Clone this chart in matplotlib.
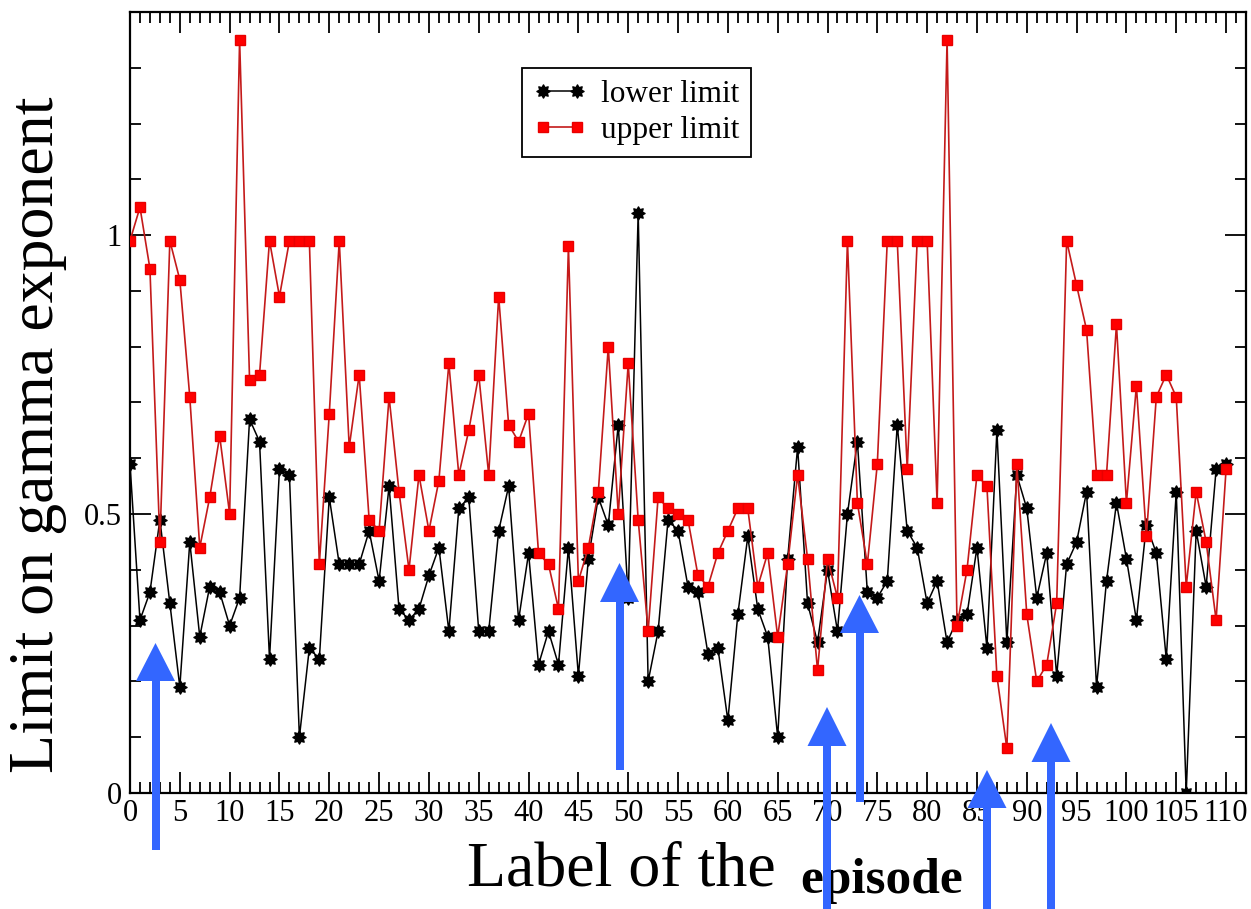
import matplotlib
matplotlib.use("Agg")
import matplotlib.pyplot as plt
from matplotlib.path import Path
from matplotlib.patches import Polygon
from matplotlib.ticker import MultipleLocator, FixedLocator, FixedFormatter

plt.rcParams['font.family'] = ['Liberation Serif', 'DejaVu Serif']

episodes = list(range(111))

lower_limit = [
    0.59, 0.31, 0.36, 0.49, 0.34, 0.19, 0.45, 0.28, 0.37, 0.36,
    0.30, 0.35, 0.67, 0.63, 0.24, 0.58, 0.57, 0.10, 0.26, 0.24,
    0.53, 0.41, 0.41, 0.41, 0.47, 0.38, 0.55, 0.33, 0.31, 0.33,
    0.39, 0.44, 0.29, 0.51, 0.53, 0.29, 0.29, 0.47, 0.55, 0.31,
    0.43, 0.23, 0.29, 0.23, 0.44, 0.21, 0.42, 0.53, 0.48, 0.66,
    0.35, 1.04, 0.20, 0.29, 0.49, 0.47, 0.37, 0.36, 0.25, 0.26,
    0.13, 0.32, 0.46, 0.33, 0.28, 0.10, 0.42, 0.62, 0.34, 0.27,
    0.40, 0.29, 0.50, 0.63, 0.36, 0.35, 0.38, 0.66, 0.47, 0.44,
    0.34, 0.38, 0.27, 0.31, 0.32, 0.44, 0.26, 0.65, 0.27, 0.57,
    0.51, 0.35, 0.43, 0.21, 0.41, 0.45, 0.54, 0.19, 0.38, 0.52,
    0.42, 0.31, 0.48, 0.43, 0.24, 0.54, 0.00, 0.47, 0.37, 0.58,
    0.59,
]

upper_limit = [
    0.99, 1.05, 0.94, 0.45, 0.99, 0.92, 0.71, 0.44, 0.53, 0.64,
    0.50, 1.35, 0.74, 0.75, 0.99, 0.89, 0.99, 0.99, 0.99, 0.41,
    0.68, 0.99, 0.62, 0.75, 0.49, 0.47, 0.71, 0.54, 0.40, 0.57,
    0.47, 0.56, 0.77, 0.57, 0.65, 0.75, 0.57, 0.89, 0.66, 0.63,
    0.68, 0.43, 0.41, 0.33, 0.98, 0.38, 0.44, 0.54, 0.80, 0.50,
    0.77, 0.49, 0.29, 0.53, 0.51, 0.50, 0.49, 0.39, 0.37, 0.43,
    0.47, 0.51, 0.51, 0.37, 0.43, 0.28, 0.41, 0.57, 0.42, 0.22,
    0.42, 0.35, 0.99, 0.52, 0.41, 0.59, 0.99, 0.99, 0.58, 0.99,
    0.99, 0.52, 1.35, 0.30, 0.40, 0.57, 0.55, 0.21, 0.08, 0.59,
    0.32, 0.20, 0.23, 0.34, 0.99, 0.91, 0.83, 0.57, 0.57, 0.84,
    0.52, 0.73, 0.46, 0.71, 0.75, 0.71, 0.37, 0.54, 0.45, 0.31,
    0.58,
]

series_labels = ["lower limit", "upper limit"]
x_tick_values = list(range(0, 111, 5))
x_tick_labels = [str(v) for v in x_tick_values]
y_tick_values = [0, 0.5, 1]
y_tick_labels = ["0", "0.5", "1"]

W, H = 1251, 909
fig = plt.figure(figsize=(W / 100, H / 100), dpi=100)
ax = fig.add_axes([130 / W, (H - 793) / H, 1116 / W, 781 / H])

star = Path.unit_regular_star(8, innerCircle=0.62)

ax.plot(episodes, lower_limit, color='black', lw=1.1, marker=star,
        markersize=9.5, markerfacecolor='black', markeredgecolor='black',
        label=series_labels[0], zorder=3)
ax.plot(episodes, upper_limit, color='#c41a1a', lw=1.2, marker='s',
        markersize=7.5, markerfacecolor='#ff0000', markeredgecolor='#e80000',
        label=series_labels[1], zorder=4)

ax.set_xlim(0, 112)
ax.set_ylim(0, 1.4)
ax.xaxis.set_major_locator(FixedLocator(x_tick_values))
ax.xaxis.set_major_formatter(FixedFormatter(x_tick_labels))
ax.xaxis.set_minor_locator(MultipleLocator(1))
ax.yaxis.set_major_locator(FixedLocator(y_tick_values))
ax.yaxis.set_major_formatter(FixedFormatter(y_tick_labels))
ax.yaxis.set_minor_locator(MultipleLocator(0.1))

ax.tick_params(which='both', direction='in', top=True, right=True,
               width=1.3, colors='black')
ax.tick_params(which='major', length=15)
ax.tick_params(which='minor', length=8)
ax.tick_params(axis='x', which='major', labelsize=22, pad=4)
ax.tick_params(axis='y', which='major', labelsize=22, pad=6)
for s in ax.spines.values():
    s.set_linewidth(1.6)

leg = ax.legend(loc='upper left', bbox_to_anchor=(0.351, 0.928),
                bbox_transform=ax.transAxes, frameon=True, fancybox=False,
                edgecolor='black', framealpha=1, fontsize=22.5,
                handlelength=1.7, handletextpad=0.45, borderpad=0.38,
                labelspacing=0.22, borderaxespad=0, numpoints=2)
leg.get_frame().set_linewidth(1.3)

fig.text(38 / W, 1 - 435 / H, "Limit on gamma exponent", rotation=90,
         ha='center', va='center', fontsize=46)
fig.text(467 / W, 1 - 885 / H, "Label of the", ha='left', va='baseline',
         fontsize=46)
fig.text(800 / W, 1 - 893 / H, "episode", ha='left', va='baseline',
         fontsize=37, fontweight='bold')

# blue annotation arrows (figure pixel positions)
arrows = [
    (155.5, 643, 681, 850),
    (619.5, 563, 602, 770),
    (827.0, 707, 746, 909),
    (859.5, 595, 633, 802),
    (987.0, 770, 808, 909),
    (1051.0, 723, 762, 909),
]
blue = '#3366ff'
def px(x, y):
    return (x / W, 1 - y / H)
for cx, tip, base, bottom in arrows:
    hw, sw = 19.5, 4.0
    head = Polygon([px(cx - hw, base), px(cx + hw, base), px(cx, tip)],
                   closed=True, transform=fig.transFigure, color=blue,
                   zorder=10, lw=0)
    shaft = Polygon([px(cx - sw, base - 1), px(cx + sw, base - 1),
                     px(cx + sw, bottom), px(cx - sw, bottom)],
                    closed=True, transform=fig.transFigure, color=blue,
                    zorder=10, lw=0)
    fig.add_artist(shaft)
    fig.add_artist(head)

fig.savefig("out.png", dpi=100)
